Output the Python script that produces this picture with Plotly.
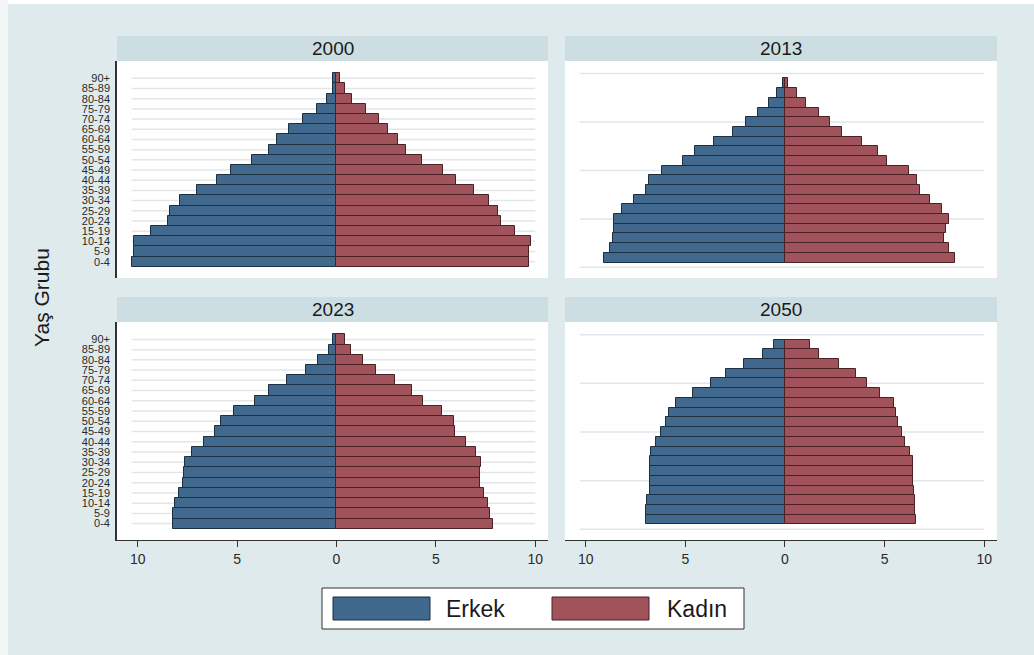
import plotly.graph_objects as go

# Age groups, bottom to top
age_groups = ["0-4", "5-9", "10-14", "15-19", "20-24", "25-29", "30-34", "35-39",
              "40-44", "45-49", "50-54", "55-59", "60-64", "65-69", "70-74",
              "75-79", "80-84", "85-89", "90+"]

years = ["2000", "2013", "2023", "2050"]

# Share of population (%) per age group, 0-4 first
erkek_2000 = [10.3, 10.2, 10.18, 9.34, 8.5, 8.37, 7.86, 7.0, 6.02, 5.32, 4.26, 3.4,
              2.97, 2.37, 1.7, 1.0, 0.5, 0.2, 0.15]
kadin_2000 = [9.69, 9.67, 9.77, 9.0, 8.27, 8.1, 7.66, 6.93, 5.99, 5.37, 4.28, 3.49,
              3.1, 2.6, 2.15, 1.48, 0.78, 0.43, 0.18]
erkek_2013 = [9.1, 8.79, 8.63, 8.59, 8.59, 8.18, 7.59, 7.0, 6.83, 6.17, 5.11, 4.52,
              3.57, 2.63, 1.98, 1.34, 0.79, 0.39, 0.12]
kadin_2013 = [8.54, 8.21, 8.0, 8.08, 8.24, 7.9, 7.29, 6.78, 6.65, 6.2, 5.14, 4.66,
              3.85, 2.85, 2.26, 1.71, 1.06, 0.59, 0.17]
erkek_2023 = [8.2, 8.2, 8.12, 7.9, 7.7, 7.65, 7.61, 7.28, 6.66, 6.1, 5.8, 5.15,
              4.1, 3.38, 2.5, 1.55, 0.91, 0.36, 0.15]
kadin_2023 = [7.88, 7.71, 7.6, 7.41, 7.21, 7.21, 7.29, 7.04, 6.49, 5.95, 5.9, 5.32,
              4.36, 3.81, 2.94, 1.97, 1.31, 0.71, 0.43]
erkek_2050 = [6.98, 6.98, 6.92, 6.78, 6.78, 6.78, 6.78, 6.73, 6.45, 6.2, 5.98, 5.81,
              5.49, 4.61, 3.73, 2.98, 2.04, 1.09, 0.54]
kadin_2050 = [6.58, 6.53, 6.5, 6.45, 6.42, 6.42, 6.42, 6.28, 6.03, 5.86, 5.65, 5.58,
              5.48, 4.77, 4.14, 3.57, 2.73, 1.71, 1.26]

x_tick_vals = [-10, -5, 0, 5, 10]
x_tick_text = ["10", "5", "0", "5", "10"]

erkek = {"2000": erkek_2000, "2013": erkek_2013, "2023": erkek_2023, "2050": erkek_2050}
kadin = {"2000": kadin_2000, "2013": kadin_2013, "2023": kadin_2023, "2050": kadin_2050}

W, H = 1034, 655
BG = "#dfeaec"
STRIP = "#cddee3"
BLUE = "#41698d"
BLUE_LINE = "#1c2f40"
RED = "#a0535b"
RED_LINE = "#4a2226"
AXIS = "#333333"
GRID = "#e2e6e8"
FONT = "Liberation Sans, Arial, sans-serif"


def fx(p):
    return p / W


def fy(p):
    return 1 - p / H


# panel layout in pixels: (x0, x1), (y_top, y_bottom)
panels = {
    "2000": dict(ax="", xs=(117, 548), ys=(61, 278), left=True, bottom=False),
    "2013": dict(ax="2", xs=(565, 997), ys=(61, 278), left=False, bottom=False),
    "2023": dict(ax="3", xs=(117, 548), ys=(322, 540), left=True, bottom=True),
    "2050": dict(ax="4", xs=(565, 997), ys=(322, 540), left=False, bottom=True),
}

positions = list(range(1, len(age_groups) + 1))

fig = go.Figure()
shapes = []
annotations = []

for yr in years:
    p = panels[yr]
    xa = "x" + p["ax"]
    ya = "y" + p["ax"]
    fig.add_trace(go.Bar(
        x=[-v for v in erkek[yr]], y=positions, orientation="h", width=1,
        marker=dict(color=BLUE, line=dict(color=BLUE_LINE, width=1)),
        name="Erkek", showlegend=False, xaxis=xa, yaxis=ya))
    fig.add_trace(go.Bar(
        x=kadin[yr], y=positions, orientation="h", width=1,
        marker=dict(color=RED, line=dict(color=RED_LINE, width=1)),
        name="Kadın", showlegend=False, xaxis=xa, yaxis=ya))

    xkey = "xaxis" + p["ax"]
    ykey = "yaxis" + p["ax"]
    x0, x1 = p["xs"]
    yt, yb = p["ys"]
    fig.layout[xkey] = dict(
        domain=[fx(x0), fx(x1)], anchor=ya, range=[-11.04, 10.64],
        showgrid=False, zeroline=False, fixedrange=True,
        tickvals=x_tick_vals, ticktext=x_tick_text,
        showticklabels=p["bottom"], ticks="outside" if p["bottom"] else "",
        ticklen=6, tickwidth=1, tickcolor=AXIS,
        showline=p["bottom"], linecolor=AXIS, linewidth=1.3,
        tickfont=dict(family=FONT, size=14, color="#2a2a2a"))
    if p["left"]:
        yrange = [-0.6, 20.7]
        fig.layout[ykey] = dict(
            domain=[fy(yb), fy(yt)], anchor=xa, range=yrange,
            tickvals=positions, ticktext=age_groups, ticks="",
            showgrid=False, zeroline=False, showline=True,
            linecolor=AXIS, linewidth=1.6, ticklabelstandoff=3,
            tickfont=dict(family=FONT, size=11, color="#2a2a2a"))
        grid_vals = positions
    else:
        yrange = [-1.1, 21.3]
        fig.layout[ykey] = dict(
            domain=[fy(yb), fy(yt)], anchor=xa, range=yrange,
            showticklabels=False, ticks="", showgrid=False,
            zeroline=False, showline=False)
        grid_vals = [0, 5, 10, 15, 20]

    for gv in grid_vals:
        shapes.append(dict(type="line", xref=xa, yref=ya, x0=-10.3, x1=10.0,
                           y0=gv, y1=gv, layer="below",
                           line=dict(color=GRID, width=1.5)))

    # header strip with the year
    shapes.append(dict(type="rect", xref="paper", yref="paper",
                       x0=fx(x0), x1=fx(x1), y0=fy(yt), y1=fy(yt - 25),
                       fillcolor=STRIP, line=dict(width=0), layer="below"))
    annotations.append(dict(text=yr, xref="paper", yref="paper",
                            x=fx((x0 + x1) / 2), y=fy(yt - 12.5),
                            showarrow=False, xanchor="center", yanchor="middle",
                            font=dict(family=FONT, size=19, color="#1a1a1a")))

# thin white border at the top and left edge
shapes.append(dict(type="rect", xref="paper", yref="paper", x0=0, x1=1,
                   y0=fy(4), y1=1, fillcolor="white", line=dict(width=0)))
shapes.append(dict(type="rect", xref="paper", yref="paper", x0=0, x1=fx(8),
                   y0=0, y1=1, fillcolor="#f2f6f7", line=dict(width=0)))

# y-axis title
annotations.append(dict(text="Yaş Grubu", xref="paper", yref="paper",
                        x=fx(41), y=fy(298), textangle=-90, showarrow=False,
                        xanchor="center", yanchor="middle",
                        font=dict(family=FONT, size=21, color="#1a1a1a")))

# legend box
shapes.append(dict(type="rect", xref="paper", yref="paper",
                   x0=fx(322), x1=fx(744), y0=fy(629), y1=fy(588),
                   fillcolor="white", line=dict(color="#333333", width=1)))
legend_items = [("Erkek", BLUE, BLUE_LINE, 333, 444), ("Kadın", RED, RED_LINE, 552, 665)]
for label, col, lcol, sx, tx in legend_items:
    shapes.append(dict(type="rect", xref="paper", yref="paper",
                       x0=fx(sx), x1=fx(sx + 97), y0=fy(620), y1=fy(597),
                       fillcolor=col, line=dict(color=lcol, width=1)))
    annotations.append(dict(text=label, xref="paper", yref="paper",
                            x=fx(tx), y=fy(609), showarrow=False,
                            xanchor="left", yanchor="middle",
                            font=dict(family=FONT, size=23, color="#1a1a1a")))

fig.update_layout(
    width=W, height=H, margin=dict(l=0, r=0, t=0, b=0),
    paper_bgcolor=BG, plot_bgcolor="white",
    barmode="overlay", bargap=0,
    shapes=shapes, annotations=annotations,
    font=dict(family=FONT),
)

fig.write_html("out.html")
